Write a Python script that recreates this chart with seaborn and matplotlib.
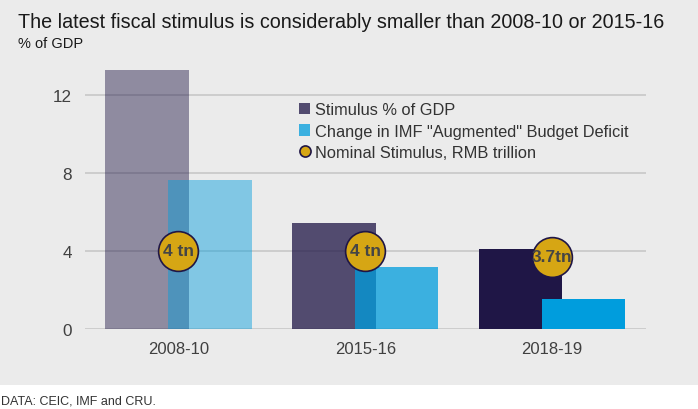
import matplotlib
matplotlib.use("Agg")
import matplotlib.pyplot as plt
from matplotlib.patches import Rectangle, Patch
from matplotlib.lines import Line2D
import seaborn as sns
import pandas as pd
import numpy as np

categories = ["2008-10", "2015-16", "2018-19"]
stimulus_pct_gdp = [13.3, 5.45, 4.12]
imf_deficit_change = [7.65, 3.19, 1.54]
nominal_rmb_tn = [4.0, 4.0, 3.7]
nominal_labels = ["4 tn", "4 tn", "3.7tn"]
yticks = [0, 4, 8, 12]

title = "The latest fiscal stimulus is considerably smaller than 2008-10 or 2015-16"
subtitle = "% of GDP"
source = "DATA: CEIC, IMF and CRU."
legend_labels = ["Stimulus % of GDP", 'Change in IMF "Augmented" Budget Deficit',
                 "Nominal Stimulus, RMB trillion"]

NAVY = "#1F1646"
BLUE = "#009DDD"
GOLD = "#D6A614"
BG = "#EBEBEB"
alphas = [0.45, 0.75, 1.0]
bar_w = 0.447
offset = 0.168

sns.set_theme(style="white")
plt.rcParams["font.family"] = ["Liberation Sans", "DejaVu Sans"]

fig = plt.figure(figsize=(6.98, 4.10), dpi=100)
fig.patch.set_facecolor("white")
fig.patches.append(Rectangle((0, 24.5 / 410), 1, 1 - 24.5 / 410, transform=fig.transFigure,
                             facecolor=BG, edgecolor="none", zorder=-10))

ax = fig.add_axes([85 / 698, 80 / 410, 560.5 / 698, 273 / 410])
ax.set_facecolor("none")

df_s = pd.DataFrame({"cat": categories, "val": stimulus_pct_gdp})
df_b = pd.DataFrame({"cat": categories, "val": imf_deficit_change})

sns.barplot(data=df_s, x="cat", y="val", color=NAVY, width=bar_w, ax=ax,
            saturation=1, zorder=2)
n1 = len(ax.patches)
sns.barplot(data=df_b, x="cat", y="val", color=BLUE, width=bar_w, ax=ax,
            saturation=1, zorder=3)
for i, p in enumerate(ax.patches[:n1]):
    p.set_x(p.get_x() - offset)
    p.set_alpha(alphas[i])
    p.set_edgecolor("none")
for i, p in enumerate(ax.patches[n1:]):
    p.set_x(p.get_x() + offset)
    p.set_alpha(alphas[i])
    p.set_edgecolor("none")

df_n = pd.DataFrame({"x": np.arange(len(categories)), "y": nominal_rmb_tn})
sns.scatterplot(data=df_n, x="x", y="y", s=820, color=GOLD, edgecolor=NAVY,
                linewidth=1.2, ax=ax, zorder=5, legend=False)
for i, (v, lab) in enumerate(zip(nominal_rmb_tn, nominal_labels)):
    ax.text(i, v, lab, ha="center", va="center", fontsize=12.5, fontweight="bold",
            color="#454545", zorder=6)

ax.set_xlim(-0.5, len(categories) - 0.5)
ax.set_ylim(0, 14)
ax.set_yticks(yticks)
ax.set_yticklabels([str(t) for t in yticks])
ax.set_xlabel("")
ax.set_ylabel("")
ax.grid(axis="y", color="#C8C8C8", linewidth=1.2, zorder=0)
ax.grid(axis="x", visible=False)
ax.set_axisbelow(True)
for s in ax.spines.values():
    s.set_visible(False)
ax.tick_params(axis="y", length=0, pad=9.5, labelsize=12.3, labelcolor="#404040")
ax.tick_params(axis="x", length=0, pad=9, labelsize=12, labelcolor="#404040")

handles = [
    Patch(facecolor=NAVY, alpha=0.75, edgecolor="none"),
    Patch(facecolor=BLUE, alpha=0.75, edgecolor="none"),
    Line2D([0], [0], marker="o", linestyle="none", markersize=8,
           markerfacecolor=GOLD, markeredgecolor=NAVY, markeredgewidth=1.2),
]
leg = ax.legend(handles, legend_labels, loc="upper left",
                bbox_to_anchor=((299 - 85) / 560.5, 1 - (103 - 57) / 273),
                frameon=False, fontsize=11.8, handlelength=0.7, handleheight=0.7,
                handletextpad=0.3, labelspacing=0.4, borderpad=0, borderaxespad=0)
for t in leg.get_texts():
    t.set_color("#333333")

fig.text(18 / 698, 1 - 22 / 410, title, fontsize=14.2, color="#1A1A1A", va="center", ha="left")
fig.text(18 / 698, 1 - 44 / 410, subtitle, fontsize=10.5, color="#1A1A1A", va="center", ha="left")
fig.text(1 / 698, 1 - 402 / 410, source, fontsize=9, color="#333333", va="center", ha="left")

fig.savefig("out.png", dpi=100, facecolor=fig.get_facecolor())
